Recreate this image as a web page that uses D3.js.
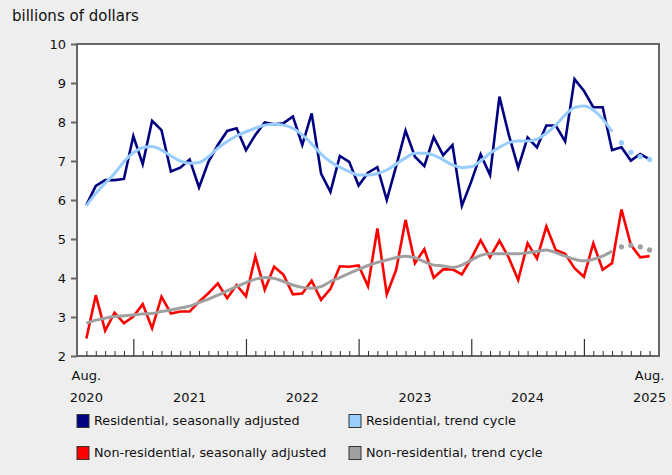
<!DOCTYPE html>
<html>
<head>
<meta charset="utf-8">
<script src="https://cdn.jsdelivr.net/npm/d3@7"></script>
<style>
  body { margin: 0; background: #eeeeee; }
  svg { display: block; font-family: "DejaVu Sans", Verdana, sans-serif; }
</style>
</head>
<body>
<div id="chart"></div>
<script>
// monthly, Aug 2020 .. Aug 2025
const months = d3.timeMonth.range(new Date(2020, 7, 1), new Date(2025, 8, 1));

const residentialSA = [
  5.87, 6.36, 6.51, 6.51, 6.54, 7.64, 6.92, 8.03, 7.79, 6.73, 6.83, 7.04,
  6.32, 6.98, 7.41, 7.77, 7.84, 7.28, 7.67, 7.99, 7.94, 7.97, 8.14, 7.41,
  8.22, 6.68, 6.21, 7.13, 6.98, 6.37, 6.70, 6.84, 6.00, 6.87, 7.78, 7.11,
  6.87, 7.61, 7.15, 7.41, 5.85, 6.47, 7.17, 6.64, 8.65, 7.67, 6.83, 7.60,
  7.35, 7.91, 7.91, 7.50, 9.10, 8.80, 8.38, 8.38, 7.28, 7.35, 7.01, 7.18,
  7.04
];
const residentialTrend = [
  5.85, 6.17, 6.43, 6.68, 6.98, 7.21, 7.34, 7.37, 7.28, 7.13, 7.00, 6.94,
  6.96, 7.11, 7.33, 7.50, 7.64, 7.75, 7.84, 7.92, 7.94, 7.92, 7.84, 7.67,
  7.44, 7.18, 6.98, 6.84, 6.73, 6.64, 6.64, 6.68, 6.77, 6.92, 7.08, 7.20,
  7.20, 7.15, 7.03, 6.90, 6.83, 6.85, 7.00, 7.20, 7.35, 7.47, 7.51, 7.51,
  7.56, 7.71, 7.92, 8.18, 8.37, 8.41, 8.31, 8.08, 7.75, 7.47, 7.22, 7.11,
  7.04
];
const nonResidentialSA = [
  2.45, 3.56, 2.65, 3.11, 2.84, 3.01, 3.33, 2.71, 3.52, 3.09, 3.14, 3.14,
  3.39, 3.61, 3.86, 3.48, 3.82, 3.53, 4.55, 3.70, 4.29, 4.08, 3.58, 3.60,
  3.93, 3.44, 3.72, 4.30, 4.29, 4.32, 3.79, 5.27, 3.58, 4.21, 5.49, 4.38,
  4.74, 4.01, 4.22, 4.22, 4.09, 4.50, 4.97, 4.53, 4.96, 4.52, 3.95, 4.89,
  4.50, 5.32, 4.72, 4.62, 4.25, 4.03, 4.89, 4.21, 4.38, 5.76, 4.85, 4.53,
  4.56
];
const nonResidentialTrend = [
  2.84, 2.92, 2.97, 3.01, 3.03, 3.05, 3.08, 3.09, 3.14, 3.18, 3.23, 3.28,
  3.37, 3.46, 3.56, 3.67, 3.78, 3.88, 3.97, 4.01, 3.99, 3.91, 3.82, 3.76,
  3.74, 3.78, 3.91, 4.01, 4.12, 4.22, 4.32, 4.40, 4.46, 4.52, 4.56, 4.52,
  4.42, 4.33, 4.31, 4.27, 4.33, 4.46, 4.58, 4.62, 4.62, 4.62, 4.62, 4.65,
  4.68, 4.72, 4.65, 4.56, 4.48, 4.44, 4.48, 4.56, 4.69, 4.80, 4.84, 4.80,
  4.72
];
// last 4 trend-cycle points are drawn as dots
const trendSolidCount = 57;

const yTicks = [2, 3, 4, 5, 6, 7, 8, 9, 10];
const xLabels = [
  { month: "2020-08", lines: ["Aug.", "2020"] },
  { month: "2021-07", lines: ["2021"] },
  { month: "2022-07", lines: ["2022"] },
  { month: "2023-07", lines: ["2023"] },
  { month: "2024-07", lines: ["2024"] },
  { month: "2025-08", lines: ["Aug.", "2025"] }
];

const series = [
  { name: "Residential, seasonally adjusted", values: residentialSA, color: "#000080", width: 2.6, trend: false },
  { name: "Residential, trend cycle", values: residentialTrend, color: "#99ccff", width: 3, trend: true },
  { name: "Non-residential, seasonally adjusted", values: nonResidentialSA, color: "#ff0000", width: 2.6, trend: false },
  { name: "Non-residential, trend cycle", values: nonResidentialTrend, color: "#a0a0a0", width: 3, trend: true }
];

const W = 672, H = 475;
const plot = { left: 77, right: 659, top: 44, bottom: 356 };
const fmt = d3.timeFormat("%Y-%m");
const keys = months.map(fmt);

const x = d3.scalePoint().domain(keys).range([plot.left, plot.right]).padding(1);
const y = d3.scaleLinear().domain([2, 10]).range([plot.bottom, plot.top]);

const svg = d3.select("#chart").append("svg")
  .attr("width", W).attr("height", H);

svg.append("rect").attr("width", W).attr("height", H).attr("fill", "#eeeeee");

svg.append("text")
  .attr("x", 12).attr("y", 21)
  .attr("font-size", 15).attr("fill", "#111")
  .text("billions of dollars");

// plot area
svg.append("rect")
  .attr("x", plot.left).attr("y", plot.top)
  .attr("width", plot.right - plot.left).attr("height", plot.bottom - plot.top)
  .attr("fill", "#fff").attr("stroke", "#666").attr("stroke-width", 2);

// y axis
const yAxis = svg.append("g")
  .attr("transform", `translate(${plot.left},0)`)
  .call(d3.axisLeft(y).tickValues(yTicks).tickSize(6).tickPadding(5).tickFormat(d3.format("d")));
yAxis.select(".domain").remove();
yAxis.selectAll(".tick line").attr("stroke", "#666").attr("stroke-width", 2);
yAxis.selectAll(".tick text").attr("font-size", 13).attr("fill", "#111")
  .attr("font-family", "DejaVu Sans, Verdana, sans-serif");

// x axis: minor ticks every month, major at January
const minorAxis = svg.append("g")
  .attr("transform", `translate(0,${plot.bottom})`)
  .call(d3.axisBottom(x).tickValues(keys.filter(k => !k.endsWith("-01"))).tickSize(-5).tickFormat(""));
minorAxis.select(".domain").remove();
minorAxis.selectAll(".tick line").attr("stroke", "#333").attr("stroke-width", 1);

const majorAxis = svg.append("g")
  .attr("transform", `translate(0,${plot.bottom})`)
  .call(d3.axisBottom(x).tickValues(keys.filter(k => k.endsWith("-01"))).tickSize(-17).tickFormat(""));
majorAxis.select(".domain").remove();
majorAxis.selectAll(".tick line").attr("stroke", "#333").attr("stroke-width", 1.2);

// x labels
xLabels.forEach(l => {
  const t = svg.append("text")
    .attr("x", x(l.month)).attr("y", 380)
    .attr("text-anchor", "middle").attr("font-size", 13).attr("fill", "#111");
  const lines = l.lines.length === 2 ? l.lines : ["", l.lines[0]];
  lines.forEach((s, i) => {
    t.append("tspan").attr("x", x(l.month)).attr("y", 380 + i * 22).text(s);
  });
});

// lines
const line = d3.line()
  .x((d, i) => x(keys[i]))
  .y(d => y(d));

const g = svg.append("g");
series.forEach(s => {
  const solid = s.trend ? s.values.slice(0, trendSolidCount) : s.values;
  g.append("path")
    .datum(solid)
    .attr("fill", "none")
    .attr("stroke", s.color)
    .attr("stroke-width", s.width)
    .attr("stroke-linejoin", "miter")
    .attr("d", s.trend ? line.curve(d3.curveMonotoneX)(solid) : line.curve(d3.curveLinear)(solid));
  if (s.trend) {
    g.selectAll(null)
      .data(s.values.map((v, i) => ({ v, i })).slice(trendSolidCount))
      .join("circle")
      .attr("cx", d => x(keys[d.i]))
      .attr("cy", d => y(d.v))
      .attr("r", 2.6)
      .attr("fill", s.color);
  }
});

// legend
const legend = svg.append("g");
series.forEach((s, i) => {
  const lx = i % 2 === 0 ? 77 : 349;
  const ly = 421 + Math.floor(i / 2) * 32;
  legend.append("rect")
    .attr("x", lx).attr("y", ly - 6.5)
    .attr("width", 12).attr("height", 13)
    .attr("fill", s.color).attr("stroke", "#333").attr("stroke-width", 1);
  legend.append("text")
    .attr("x", lx + 17).attr("y", ly)
    .attr("dy", "0.35em")
    .attr("font-size", 12.8).attr("fill", "#111")
    .text(s.name);
});
</script>
</body>
</html>
